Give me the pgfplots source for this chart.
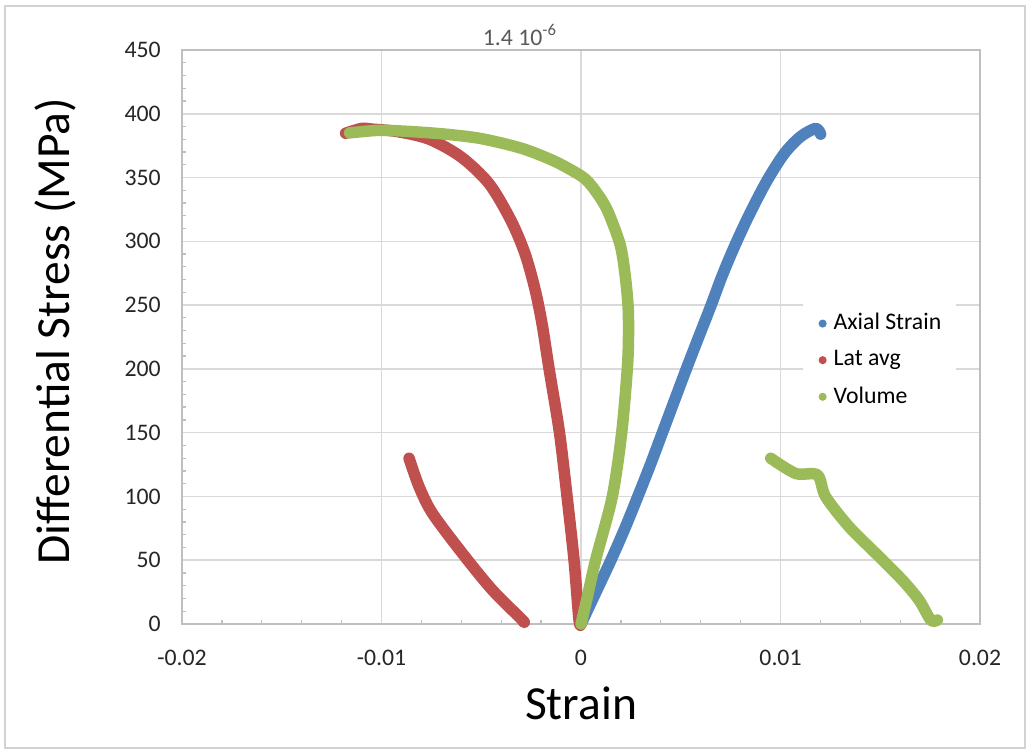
\documentclass[border=0pt]{standalone}
\usepackage{fontspec}
\setmainfont{Carlito}
\usepackage{pgfplots}
\pgfplotsset{compat=1.18}
\definecolor{xlblue}{HTML}{4F81BD}
\definecolor{xlred}{HTML}{C0504D}
\definecolor{xlgreen}{HTML}{9BBB59}
\definecolor{gridgray}{HTML}{D9D9D9}
\definecolor{axgray}{HTML}{BFBFBF}
\tikzset{thickcurve/.style={line width=4.6pt, line cap=round, line join=round}}

\begin{document}
\begin{tikzpicture}
\begin{axis}[
    scale only axis,
    width=319.2pt, height=229.6pt,
    xmin=-0.02, xmax=0.02, ymin=0, ymax=450,
    xtick={-0.02,-0.01,0,0.01,0.02},
    xticklabels={-0.02,-0.01,0,0.01,0.02},
    scaled x ticks=false,
    ytick={0,50,...,450},
    minor x tick num=4, minor y tick num=4,
    tick pos=left, tick align=inside,
    major tick length=0pt, minor tick length=1.6pt,
    tick style={draw=axgray, line width=0.5pt},
    xmajorgrids, ymajorgrids,
    grid style={draw=gridgray, line width=0.6pt},
    axis line style={draw=axgray, line width=0.6pt},
    tick label style={font=\fontsize{9.5}{11}\selectfont, text=black!85},
    yticklabel style={/pgf/number format/assume math mode=true, xshift=-5pt},
    xticklabel style={yshift=-7pt},
    xlabel={Strain},
    ylabel={Differential Stress (MPa)},
    label style={font=\fontsize{19}{22}\selectfont},
    xlabel style={at={(rel axis cs:0.5,-0.1376)}, anchor=center},
    ylabel style={at={(rel axis cs:-0.159,0.51)}, anchor=center},
    legend style={at={(rel axis cs:0.777,0.568)}, anchor=north west,
        draw=none, fill=white, font=\fontsize{9.5}{11}\selectfont,
        row sep=2.8pt, inner xsep=3pt, inner ysep=4pt,
        nodes={inner xsep=2.8pt}},
    legend cell align=left,
    clip=false,
]
% legend markers only
\addlegendimage{legend image code/.code={\path (0,0); \fill[xlblue] (0.17cm,0) circle (1.4pt);}}
\addlegendentry{Axial Strain}
\addlegendimage{legend image code/.code={\path (0,0); \fill[xlred] (0.17cm,0) circle (1.4pt);}}
\addlegendentry{Lat avg}
\addlegendimage{legend image code/.code={\path (0,0); \fill[xlgreen] (0.17cm,0) circle (1.4pt);}}
\addlegendentry{Volume}

% Axial Strain
\addplot[xlblue, thickcurve, smooth, forget plot] coordinates {
    (0,0) (0.0006,20) (0.0015,50) (0.0022,75) (0.00285,100) (0.00348,125)
    (0.00408,150) (0.00468,175) (0.00528,200) (0.0059,225) (0.0065,249)
    (0.0071,274) (0.00775,298) (0.0085,323) (0.00934,348) (0.0102,369)
    (0.0110,382) (0.01176,388.5) (0.01201,384)
};
% Lat avg
\addplot[xlred, thickcurve, smooth, forget plot] coordinates {
    (0,0) (-0.0001,3) (-0.00035,50) (-0.0007,100) (-0.00108,150)
    (-0.0016,200) (-0.00195,235) (-0.0023,262) (-0.0028,290) (-0.0035,316)
    (-0.0046,345) (-0.006,366) (-0.0076,380) (-0.0092,386)
    (-0.0105,388) (-0.011,388.5) (-0.0118,384.7)
};
\addplot[xlred, thickcurve, smooth, forget plot] coordinates {
    (-0.00862,129.9) (-0.00812,107.7) (-0.00745,86.8) (-0.00595,55.4)
    (-0.00445,26.7) (-0.00294,3.1) (-0.0029,2)
};
% Volume
\addplot[xlgreen, thickcurve, smooth, forget plot] coordinates {
    (0,0) (0.0003,20) (0.00073,50) (0.00157,100) (0.00204,150)
    (0.00232,200) (0.00238,225) (0.00236,249) (0.0022,275) (0.00195,298)
    (0.0013,325) (0.0007,340) (0.0002,349) (-0.0005,356) (-0.0015,364)
    (-0.003,373) (-0.005,380.5) (-0.0068,384) (-0.0085,386) (-0.0101,387)
    (-0.0116,385)
};
\addplot[xlgreen, thickcurve, smooth, forget plot] coordinates {
    (0.00951,129.9) (0.01076,118) (0.01185,116.8) (0.01226,99.8)
    (0.01343,76.3) (0.01477,55.4) (0.0161,34.5) (0.01694,18.8)
    (0.01753,3.1) (0.01786,3.1)
};

\node[font=\fontsize{9.5}{11}\selectfont, text=black!65] at (rel axis cs:0.4236,1.026) {1.4 10\textsuperscript{-6}};
\draw[gray!35, line width=0.6pt] (rel axis cs:-0.2218,-0.216) rectangle (rel axis cs:1.0564,1.0767);
\path (rel axis cs:-0.2281,-0.2282) rectangle (rel axis cs:1.0639,1.0871);
\end{axis}
\end{tikzpicture}
\end{document}
